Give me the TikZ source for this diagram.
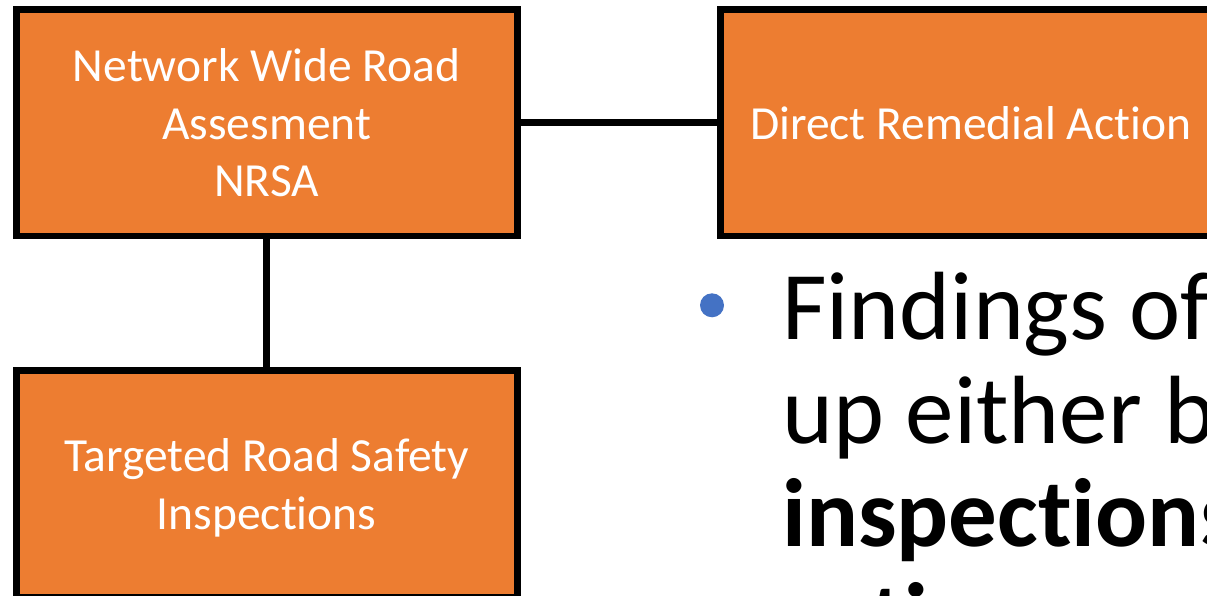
\documentclass[tikz,border=0pt]{standalone}
\usepackage{fontspec}
\setmainfont{Carlito}[Ligatures=NoCommon]
\definecolor{boxorange}{HTML}{ED7D31}
\definecolor{dotblue}{HTML}{4472C4}
\tikzset{orgbox/.style={draw=black,fill=boxorange,line width=6.7pt,minimum width=501pt,minimum height=226.7pt,
    text=white,align=center,inner sep=0pt,text depth=0pt,font=\fontsize{47.5}{57.5}\selectfont},
  link/.style={line width=6.7pt},
  bigline/.style={anchor=base west,inner sep=0pt,font=\fontsize{97}{104}\selectfont}}

\begin{document}
\begin{tikzpicture}[x=1pt,y=-1pt]
        \useasboundingbox (0,0) rectangle (1207,596);
        \clip (0,0) rectangle (1207,596);
        \node[orgbox] (nrsa) at (266.7,122.7) {Network Wide Road\\Assesment\\NRSA};
        \node[orgbox] (remedial) at (970.7,122.7) {Direct Remedial Action};
        \node[orgbox] (trsi) at (266.7,484) {Targeted Road Safety\\Inspections};
        \draw[link] (nrsa) -- (remedial);
        \draw[link] (nrsa) -- (trsi);
        \node[circle,fill=dotblue,minimum size=24pt,inner sep=0pt] (dot) at (712,305.3) {};
        \node[bigline] (find1) at (782,339.3) {Findings of NRSA};
        \node[bigline] (find2) at (782,443) {up either by};
        \node[bigline] (find3) at (782,546.7) {\textbf{inspections}};
        \node[bigline] (find4) at (782,650.4) {\textbf{action}};
    \end{tikzpicture}
\end{document}
